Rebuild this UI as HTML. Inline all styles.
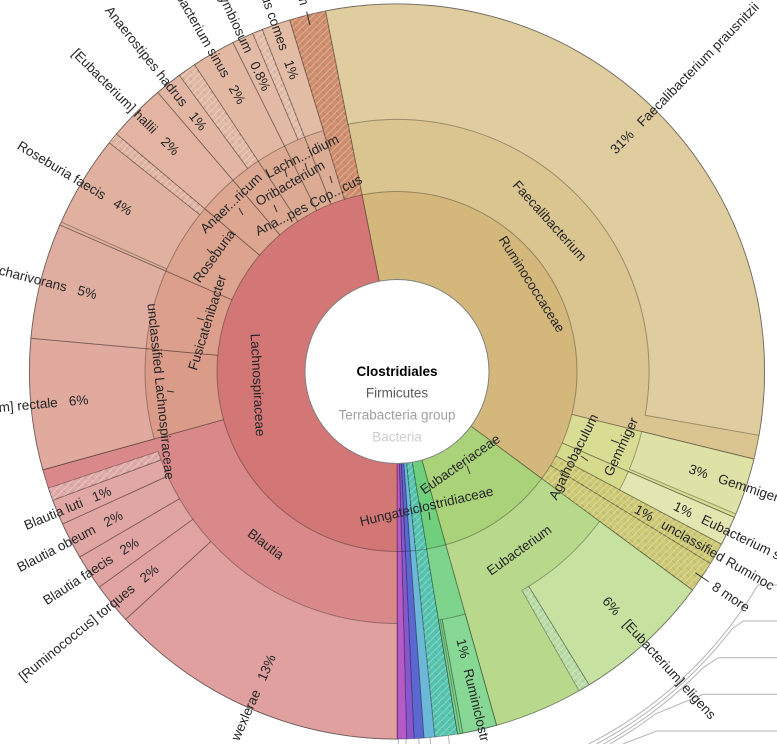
<!DOCTYPE html>
<html><head><meta charset="utf-8"><style>
html,body{margin:0;padding:0;background:#fff;width:777px;height:744px;overflow:hidden;}
svg{display:block;overflow:hidden;}
.s{stroke:#000;stroke-opacity:.3;stroke-width:1;stroke-linejoin:round;}
text{font-family:"Liberation Sans",Arial,sans-serif;font-size:13.5px;fill:#262626;}
.tk{stroke:#333;stroke-width:1;}
.cl{stroke:#b4b4b4;stroke-width:1;fill:none;}
</style></head><body>
<svg width="777" height="744" viewBox="0 0 777 744" xmlns="http://www.w3.org/2000/svg">
<defs>
<pattern id="h" width="7" height="7" patternUnits="userSpaceOnUse">
<path d="M0,7L7,0M-1,1L1,-1M6,8L8,6" stroke="#fff" stroke-opacity=".28" stroke-width="1.2"/>
<path d="M0,0L3.5,3.5" stroke="#000" stroke-opacity=".08" stroke-width="1"/>
</pattern>
</defs>
<rect width="777" height="744" fill="#fff"/>

<!-- callout lines -->
<path class="cl" d="M622.9,744L656.7,731H777"/>
<path class="cl" d="M609.8,744A429,429 0 0 0 655.2,714.1L703.3,694.3H777"/>
<path class="cl" d="M603.7,744A426,426 0 0 0 703.4,667.4L718.3,657.7H777"/>
<path class="cl" d="M596.4,744A422.5,422.5 0 0 0 732.2,628.7L743.3,621H777"/>
<path class="cl" d="M588.8,744A419,419 0 0 0 758,585H777"/>
<path class="cl" d="M398.3,739V744M406,738.9L406.1,744M418.8,738.4L419.1,744M430,737.5L430.5,744M448.2,735.4L449.4,744"/>

<!-- families at outer radius -->
<g class="s">
<path fill="#d4b97a" d="M397,371.5L325.62,11A367.5,367.5 0 0 1 692.42,590.1Z"/>
<path fill="#aad279" d="M397,371.5L692.42,590.1A367.5,367.5 0 0 1 496.45,725.29Z"/>
<path fill="#6fcf7d" d="M397,371.5L496.45,725.29A367.5,367.5 0 0 1 457.66,733.96Z"/>
<path fill="#55c4ae" d="M397,371.5L457.66,733.96A367.5,367.5 0 0 1 434.78,737.05Z"/>
<path fill="#6cb8d9" d="M397,371.5L434.78,737.05A367.5,367.5 0 0 1 423.92,738.01Z"/>
<path fill="#5b68d1" d="M397,371.5L423.92,738.01A367.5,367.5 0 0 1 413.99,738.61Z"/>
<path fill="#8757cf" d="M397,371.5L413.99,738.61A367.5,367.5 0 0 1 406.62,738.87Z"/>
<path fill="#b65ac8" d="M397,371.5L406.62,738.87A367.5,367.5 0 0 1 397,739Z"/>
<path fill="#d27676" d="M397,371.5L397,739A367.5,367.5 0 0 1 325.62,11Z"/>
</g>
<path fill="url(#h)" d="M397,371.5L457.66,733.96A367.5,367.5 0 0 1 434.78,737.05Z"/>

<!-- genera at outer radius -->
<g class="s">
<path fill="#dac48f" d="M397,371.5L325.62,11A367.5,367.5 0 0 1 753.89,459.16Z"/>
<path fill="#d9dc93" d="M397,371.5L753.89,459.16A367.5,367.5 0 0 1 734.27,517.45Z"/>
<path fill="#d6da8c" d="M397,371.5L734.27,517.45A367.5,367.5 0 0 1 721.48,544.03Z"/>
<path fill="#cdc873" d="M397,371.5L721.48,544.03A367.5,367.5 0 0 1 710.35,563.52Z"/>
<path fill="#cdc873" d="M397,371.5L710.35,563.52A367.5,367.5 0 0 1 692.42,590.1Z"/>
<path fill="#b8d98b" d="M397,371.5L692.42,590.1A367.5,367.5 0 0 1 496.45,725.29Z"/>
<path fill="#7fd48d" d="M397,371.5L496.45,725.29A367.5,367.5 0 0 1 457.66,733.96Z"/>
<path fill="#d98989" d="M397,371.5L397,739A367.5,367.5 0 0 1 42.87,469.71Z"/>
<path fill="#da9b89" d="M397,371.5L42.87,469.71A367.5,367.5 0 0 1 31.01,338.19Z"/>
<path fill="#dc9f8b" d="M397,371.5L31.01,338.19A367.5,367.5 0 0 1 59.98,224.96Z"/>
<path fill="#dca38e" d="M397,371.5L59.98,224.96A367.5,367.5 0 0 1 116.58,133.96Z"/>
<path fill="#dca690" d="M397,371.5L116.58,133.96A367.5,367.5 0 0 1 157.84,92.47Z"/>
<path fill="#dca892" d="M397,371.5L157.84,92.47A367.5,367.5 0 0 1 194.7,64.69Z"/>
<path fill="#dcaa93" d="M397,371.5L194.7,64.69A367.5,367.5 0 0 1 233.02,42.61Z"/>
<path fill="#dcab94" d="M397,371.5L233.02,42.61A367.5,367.5 0 0 1 262.31,29.57Z"/>
<path fill="#dcad95" d="M397,371.5L262.31,29.57A367.5,367.5 0 0 1 289.55,20.06Z"/>
<path fill="#cf8d6c" d="M397,371.5L289.55,20.06A367.5,367.5 0 0 1 325.62,11Z"/>
</g>
<path fill="url(#h)" d="M397,371.5L721.48,544.03A367.5,367.5 0 0 1 692.42,590.1Z"/>
<path fill="url(#h)" d="M397,371.5L289.55,20.06A367.5,367.5 0 0 1 325.62,11Z"/>

<!-- species ring -->
<g class="s">
<path fill="#dfcc9f" d="M325.62,11A367.5,367.5 0 0 1 758.92,435.32L645.17,415.26A252,252 0 0 0 348.05,124.3Z"/>
<path fill="#dfe2a6" d="M753.89,459.16A367.5,367.5 0 0 1 735.78,513.91L629.31,469.16A252,252 0 0 0 641.72,431.61Z"/>
<path fill="#e3e6b0" d="M734.27,517.45A367.5,367.5 0 0 1 721.48,544.03L619.5,489.81A252,252 0 0 0 628.27,471.58Z"/>
<path fill="#c6e1a0" d="M692.42,590.1A367.5,367.5 0 0 1 589.02,684.85L528.67,586.37A252,252 0 0 0 599.57,521.39Z"/>
<path fill="#b9dca6" d="M589.02,684.85A367.5,367.5 0 0 1 579.08,690.72L521.86,590.39A252,252 0 0 0 528.67,586.37Z"/>
<path fill="#86d894" d="M496.45,725.29A367.5,367.5 0 0 1 462.71,733.08L442.06,619.44A252,252 0 0 0 465.19,614.1Z"/>
<path fill="#7fd48d" d="M462.71,733.08A367.5,367.5 0 0 1 457.66,733.96L438.59,620.05A252,252 0 0 0 442.06,619.44Z"/>
<path fill="#e0a0a0" d="M397,739A367.5,367.5 0 0 1 125.62,619.3L210.91,541.42A252,252 0 0 0 397,623.5Z"/>
<path fill="#e0a3a1" d="M125.62,619.3A367.5,367.5 0 0 1 99.31,586.99L192.87,519.27A252,252 0 0 0 210.91,541.42Z"/>
<path fill="#e0a4a2" d="M99.31,586.99A367.5,367.5 0 0 1 79.72,556.91L179.44,498.64A252,252 0 0 0 192.87,519.27Z"/>
<path fill="#e0a6a3" d="M79.72,556.91A367.5,367.5 0 0 1 62.59,523.9L167.69,476A252,252 0 0 0 179.44,498.64Z"/>
<path fill="#e0a7a4" d="M62.59,523.9A367.5,367.5 0 0 1 52.77,500.2L160.96,459.75A252,252 0 0 0 167.69,476Z"/>
<path fill="#dfaaa7" d="M52.77,500.2A367.5,367.5 0 0 1 48.49,488.11L158.02,451.46A252,252 0 0 0 160.96,459.75Z"/>
<path fill="#e0aa9f" d="M42.87,469.71A367.5,367.5 0 0 1 31.01,338.19L146.04,348.66A252,252 0 0 0 154.17,438.84Z"/>
<path fill="#e0aea0" d="M31.01,338.19A367.5,367.5 0 0 1 59.98,224.96L165.9,271.01A252,252 0 0 0 146.04,348.66Z"/>
<path fill="#e1b19f" d="M59.98,224.96A367.5,367.5 0 0 1 109.39,142.73L199.78,214.63A252,252 0 0 0 165.9,271.01Z"/>
<path fill="#e1b3a1" d="M109.39,142.73A367.5,367.5 0 0 1 116.58,133.96L204.71,208.62A252,252 0 0 0 199.78,214.63Z"/>
<path fill="#e2b4a1" d="M116.58,133.96A367.5,367.5 0 0 1 157.84,92.47L233.01,180.16A252,252 0 0 0 204.71,208.62Z"/>
<path fill="#e2b6a2" d="M157.84,92.47A367.5,367.5 0 0 1 179.44,75.32L247.81,168.41A252,252 0 0 0 233.01,180.16Z"/>
<path fill="#e2b8a4" d="M179.44,75.32A367.5,367.5 0 0 1 194.7,64.69L258.28,161.12A252,252 0 0 0 247.81,168.41Z"/>
<path fill="#e3b8a3" d="M194.7,64.69A367.5,367.5 0 0 1 233.02,42.61L284.56,145.98A252,252 0 0 0 258.28,161.12Z"/>
<path fill="#e3baa5" d="M233.02,42.61A367.5,367.5 0 0 1 252.82,33.47L298.13,139.71A252,252 0 0 0 284.56,145.98Z"/>
<path fill="#e3bca7" d="M252.82,33.47A367.5,367.5 0 0 1 262.31,29.57L304.64,137.03A252,252 0 0 0 298.13,139.71Z"/>
<path fill="#e3bca6" d="M262.31,29.57A367.5,367.5 0 0 1 289.55,20.06L323.32,130.51A252,252 0 0 0 304.64,137.03Z"/>
</g>
<g fill="url(#h)">
<path d="M589.02,684.85A367.5,367.5 0 0 1 579.08,690.72L521.86,590.39A252,252 0 0 0 528.67,586.37Z"/>
<path d="M52.77,500.2A367.5,367.5 0 0 1 48.49,488.11L158.02,451.46A252,252 0 0 0 160.96,459.75Z"/>
<path d="M109.39,142.73A367.5,367.5 0 0 1 116.58,133.96L204.71,208.62A252,252 0 0 0 199.78,214.63Z"/>
<path d="M179.44,75.32A367.5,367.5 0 0 1 194.7,64.69L258.28,161.12A252,252 0 0 0 247.81,168.41Z"/>
<path d="M252.82,33.47A367.5,367.5 0 0 1 262.31,29.57L304.64,137.03A252,252 0 0 0 298.13,139.71Z"/>
</g>
<line class="s" x1="166.8" y1="269" x2="61.27" y2="222.02"/>
<line class="s" x1="440.3" y1="619.8" x2="460.2" y2="733.5"/>

<!-- families inner ring -->
<g class="s">
<path fill="#d4b87b" d="M397,371.5L362.04,194.93A180,180 0 0 1 541.69,478.57Z"/>
<path fill="#aad279" d="M397,371.5L541.69,478.57A180,180 0 0 1 445.71,544.78Z"/>
<path fill="#6fcf7d" d="M397,371.5L445.71,544.78A180,180 0 0 1 426.71,549.03Z"/>
<path fill="#55c4ae" d="M397,371.5L426.71,549.03A180,180 0 0 1 415.5,550.55Z"/>
<path fill="#6cb8d9" d="M397,371.5L415.5,550.55A180,180 0 0 1 410.18,551.02Z"/>
<path fill="#5b68d1" d="M397,371.5L410.18,551.02A180,180 0 0 1 405.32,551.31Z"/>
<path fill="#8757cf" d="M397,371.5L405.32,551.31A180,180 0 0 1 401.71,551.44Z"/>
<path fill="#b65ac8" d="M397,371.5L401.71,551.44A180,180 0 0 1 397,551.5Z"/>
<path fill="#d27676" d="M397,371.5L397,551.5A180,180 0 0 1 362.04,194.93Z"/>
</g>
<path fill="url(#h)" d="M397,371.5L426.71,549.03A180,180 0 0 1 415.5,550.55Z"/>

<circle cx="397" cy="371.5" r="92" fill="#fff" stroke="#808080" stroke-width="1"/>

<!-- center text -->
<text x="397" y="371.5" dy=".35em" text-anchor="middle" style="font-weight:bold;fill:#000">Clostridiales</text>
<text x="397" y="393" dy=".35em" text-anchor="middle" style="fill:#5a5a5a">Firmicutes</text>
<text x="397" y="415" dy=".35em" text-anchor="middle" style="fill:#a0a0a0">Terrabacteria group</text>
<text x="397" y="437" dy=".35em" text-anchor="middle" style="fill:#cdcdcd">Bacteria</text>

<!-- inner/tangential labels -->
<g text-anchor="middle">
<text transform="translate(258,385) rotate(87)" dy=".35em">Lachnospiraceae</text>
<text transform="translate(532,284) rotate(57.65)" dy=".35em">Ruminococcaceae</text>
<text transform="translate(549.8,220.6) rotate(48)" dy=".35em">Faecalibacterium</text>
<text transform="translate(460,464) rotate(-35)" dy=".35em">Eubacteriaceae</text>
<text transform="translate(426.5,506) rotate(-13.1)" dy=".35em">Hungateiclostridiaceae</text>
<text transform="translate(519,550) rotate(-35.6)" dy=".35em">Eubacterium</text>
<text transform="translate(573.3,456.7) rotate(-63.5)" dy=".35em">Agathobaculum</text>
<text transform="translate(620.8,446.7) rotate(-65)" dy=".35em">Gemmiger</text>
<text transform="translate(266,544) rotate(37)" dy=".35em">Blautia</text>
<text transform="translate(161,391.5) rotate(84.2)" dy=".35em">unclassified Lachnospiraceae</text>
<text transform="translate(207,322.5) rotate(-72.5)" dy=".35em">Fusicatenibacter</text>
<text transform="translate(214,256) rotate(-54)" dy=".35em">Roseburia</text>
<text transform="translate(231,203) rotate(-44)" dy=".35em">Anaer...ricum</text>
<text transform="translate(302,156) rotate(-27)" dy=".35em">Lachn...idium</text>
<text transform="translate(290,183) rotate(-30)" dy=".35em">Oribacterium</text>
<text transform="translate(308.5,205) rotate(-27)" dy=".35em">Ana...pes Cop...cus</text>
</g>
<g class="tk">
<line x1="285" y1="170" x2="287" y2="177"/>
<line x1="305" y1="163" x2="307" y2="170"/>
<line x1="330" y1="176" x2="332" y2="183"/>
<line x1="274" y1="205" x2="277" y2="212"/>
<line x1="239" y1="208" x2="243" y2="215"/>
<line x1="207" y1="249" x2="212" y2="254"/>
<line x1="197" y1="318" x2="204" y2="320"/>
<line x1="167" y1="391" x2="174" y2="392"/>
<line x1="467" y1="466" x2="470" y2="474"/>
<line x1="429" y1="512" x2="430" y2="520"/>
<line x1="611" y1="440" x2="619" y2="443"/>
<line x1="581" y1="456" x2="588" y2="461"/>
<line x1="310.03" y1="25.26" x2="306.62" y2="11.68"/>
<line x1="695.45" y1="572.81" x2="708.72" y2="581.76"/>
</g>

<!-- radial labels, left side -->
<g text-anchor="end">
<text transform="translate(304.91,4.89) rotate(76.15)" dy=".35em">Lachnospiraceae bacterium</text>
<text transform="translate(294.8,78.83) rotate(70.75)" dy=".35em">Coprococcus comes&#160;&#160; 1%</text>
<text transform="translate(266.97,90.09) rotate(65.2)" dy=".35em">[Clostridium] symbiosum&#160;&#160; 0.8%</text>
<text transform="translate(242.24,102.9) rotate(60.05)" dy=".35em">Oribacterium sinus&#160;&#160; 2%</text>
<text transform="translate(204.23,128.72) rotate(51.55)" dy=".35em">Anaerostipes hadrus&#160;&#160; 1%</text>
<text transform="translate(177.22,152.87) rotate(44.85)" dy=".35em">[Eubacterium] hallii&#160;&#160; 2%</text>
<text transform="translate(131.28,211.84) rotate(31)" dy=".35em">Roseburia faecis&#160;&#160; 4%</text>
<text transform="translate(96.67,294.67) rotate(14.35)" dy=".35em">Fusicatenibacter saccharivorans&#160;&#160; 5%</text>
<text transform="translate(88.25,399.33) rotate(-5.15)" dy=".35em">[Eubacterium] rectale&#160;&#160; 6%</text>
<text transform="translate(110.6,490.13) rotate(-22.5)" dy=".35em">Blautia luti&#160;&#160; 1%</text>
<text transform="translate(121.78,514.16) rotate(-27.4)" dy=".35em">Blautia obeum&#160;&#160; 2%</text>
<text transform="translate(137.31,540.79) rotate(-33.1)" dy=".35em">Blautia faecis&#160;&#160; 2%</text>
<text transform="translate(156.65,567.29) rotate(-39.15)" dy=".35em">[Ruminococcus] torques&#160;&#160; 2%</text>
<text transform="translate(271.9,655.14) rotate(-66.2)" dy=".35em">wexlerae&#160;&#160; 13%</text>
</g>

<!-- radial labels, right side -->
<g text-anchor="start">
<text transform="translate(612.5,151.44) rotate(-45.6)" dy=".35em">31%&#160;&#160; Faecalibacterium prausnitzii</text>
<text transform="translate(689.42,468.21) rotate(18.3)" dy=".35em">3%&#160;&#160; Gemmiger</text>
<text transform="translate(674.53,505.07) rotate(25.7)" dy=".35em">1%&#160;&#160; Eubacterium s</text>
<text transform="translate(635.76,507.96) rotate(29.75)" dy=".35em">1%&#160;&#160; unclassified Ruminoc</text>
<text transform="translate(713.69,585.11) rotate(34)" dy=".35em">8 more</text>
<text transform="translate(605.08,598.58) rotate(47.5)" dy=".35em">6%&#160;&#160; [Eubacterium] eligens</text>
<text transform="translate(460.97,638.96) rotate(76.55)" dy=".35em">1%&#160;&#160; Ruminiclostr</text>
</g>
</svg>
</body></html>
